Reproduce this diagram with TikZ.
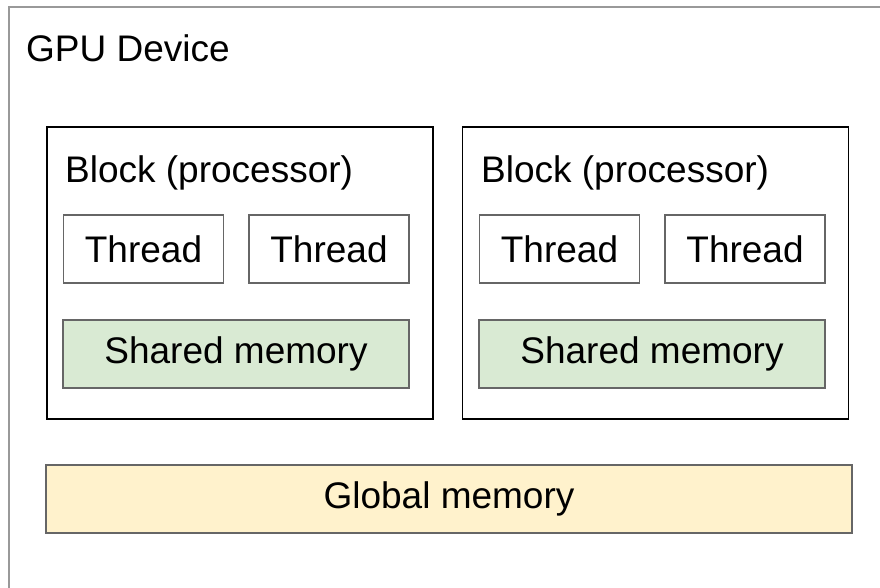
\documentclass[tikz,border=0pt]{standalone}
\usepackage{fontspec}
\setmainfont{Liberation Sans}
\definecolor{framegray}{HTML}{999999}
\definecolor{boxgray}{HTML}{666666}
\definecolor{sharedgreen}{HTML}{D9EAD3}
\definecolor{globalyellow}{HTML}{FFF2CC}
\begin{document}
\begin{tikzpicture}[x=1pt,y=-1pt,
  every node/.style={font=\fontsize{37}{41}\selectfont, inner sep=0pt},
  blockbox/.style={draw=black, line width=1.5pt, minimum width=386pt, minimum height=292pt},
  threadbox/.style={draw=boxgray, line width=1.2pt, fill=white, minimum width=160pt, minimum height=68pt},
  sharedbox/.style={draw=boxgray, line width=1.2pt, fill=sharedgreen, minimum width=346pt, minimum height=68pt},
  globalbox/.style={draw=boxgray, line width=1.5pt, fill=globalyellow, minimum width=806pt, minimum height=68pt}]
\useasboundingbox (0,0) rectangle (880,587);
\begin{scope}
\clip (0,0) rectangle (880,587);
\draw[framegray, line width=2pt] (9,7) rectangle (900,600);
\end{scope}
\node[anchor=base west] (title) at (26,61) {GPU Device};
% Block 1
\node[blockbox] (b1) at (240,273) {};
\node[anchor=base west] (b1label) at (65,182) {Block (processor)};
\node[threadbox] (t11) at (143.5,249) {Thread};
\node[threadbox] (t12) at (329,249) {Thread};
\node[sharedbox] (s1) at (236,354) {Shared memory};
% Block 2
\node[blockbox] (b2) at (655.5,273) {};
\node[anchor=base west] (b2label) at (481,182) {Block (processor)};
\node[threadbox] (t21) at (559.5,249) {Thread};
\node[threadbox] (t22) at (745,249) {Thread};
\node[sharedbox] (s2) at (652,354) {Shared memory};
% Global memory
\node[globalbox] (g) at (449,499) {Global memory};
\end{tikzpicture}
\end{document}
